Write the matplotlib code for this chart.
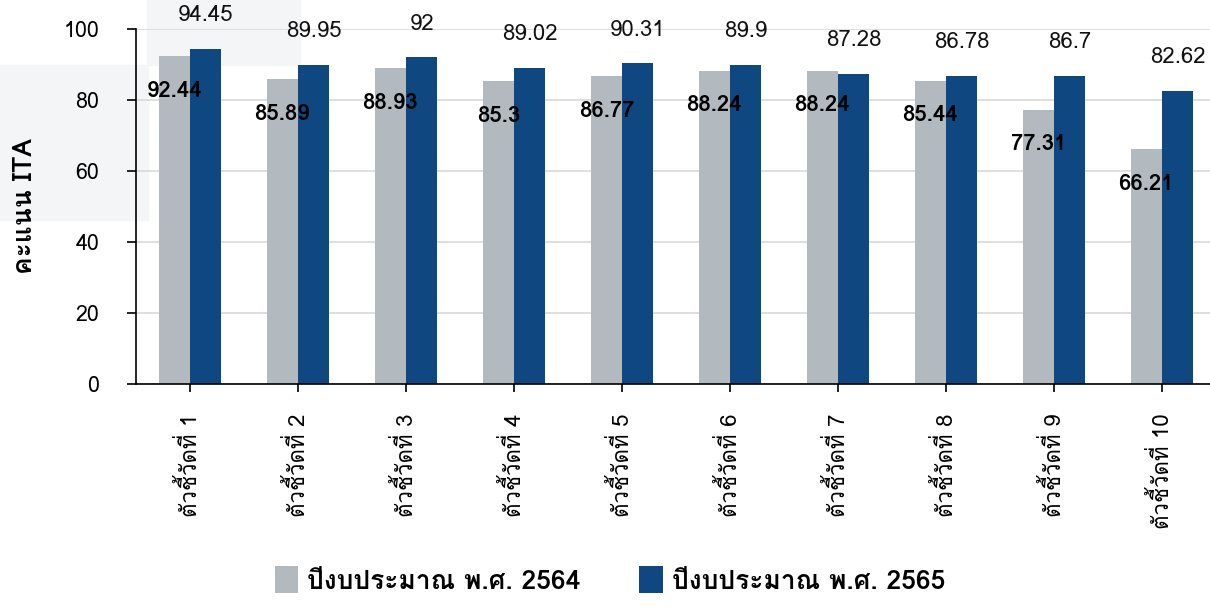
import matplotlib
matplotlib.use('Agg')
import matplotlib.pyplot as plt
import matplotlib.patches as mpatches
from matplotlib import font_manager, ft2font
import numpy as np

categories = ['ตัวชี้วัดที่ 1', 'ตัวชี้วัดที่ 2', 'ตัวชี้วัดที่ 3', 'ตัวชี้วัดที่ 4', 'ตัวชี้วัดที่ 5',
              'ตัวชี้วัดที่ 6', 'ตัวชี้วัดที่ 7', 'ตัวชี้วัดที่ 8', 'ตัวชี้วัดที่ 9', 'ตัวชี้วัดที่ 10']
score_2564 = [92.44, 85.89, 88.93, 85.3, 86.77, 88.24, 88.24, 85.44, 77.31, 66.21]
score_2565 = [94.45, 89.95, 92, 89.02, 90.31, 89.9, 87.28, 86.78, 86.7, 82.62]
series_names = ['ปีงบประมาณ พ.ศ. 2564', 'ปีงบประมาณ พ.ศ. 2565']
y_ticks = [0, 20, 40, 60, 80, 100]


def find_thai_fonts():
    # families that actually carry Thai glyphs
    found = []
    for f in font_manager.fontManager.ttflist:
        try:
            cmap = ft2font.FT2Font(f.fname).get_charmap()
        except Exception:
            continue
        if 0x0E01 in cmap and 0x0E35 in cmap and f.name not in found:
            found.append(f.name)
    return found


thai = find_thai_fonts()
plt.rcParams['font.family'] = thai[:1] + ['DejaVu Sans']

fig = plt.figure(figsize=(12.1, 6.07), dpi=100)
# faint patches left over from the source screenshot
fig.patches.append(mpatches.Rectangle((147 / 1210, 1 - 65 / 607), 153 / 1210, 65 / 607,
                                      transform=fig.transFigure, color='#f4f5f6', zorder=-5))
fig.patches.append(mpatches.Rectangle((0, 1 - 220 / 607), 148 / 1210, 155 / 607,
                                      transform=fig.transFigure, color='#f4f5f6', zorder=-5))

ax = fig.add_axes([136 / 1210, 223 / 607, 1080 / 1210, 355 / 607])
ax.patch.set_alpha(0)

x = np.arange(len(categories))
w = 0.29
gray = '#b2babf'
blue = '#0f4880'
b1 = ax.bar(x - w / 2, score_2564, w, color=gray, zorder=2, label=series_names[0])
b2 = ax.bar(x + w / 2, score_2565, w, color=blue, zorder=2, label=series_names[1])

for xi, v in zip(x, score_2564):
    ax.annotate(f'{v:g}', (xi - w / 2, v), xytext=(0, -25), textcoords='offset points',
                ha='center', va='center', fontsize=16, color='black', zorder=4,
                fontweight='semibold')
for xi, v in zip(x, score_2565):
    ax.annotate(f'{v:g}', (xi + w / 2, v), xytext=(0, 24), textcoords='offset points',
                ha='center', va='center', fontsize=16, color='#111111', zorder=4,
                annotation_clip=False)

ax.set_xlim(-0.5, len(categories) - 0.5)
ax.set_ylim(0, 100)
ax.tick_params(axis='y', labelsize=15.5, length=6.5, width=1.2, pad=20)
ax.tick_params(axis='x', length=6, width=1.2, pad=15, labelsize=16, labelrotation=90)
ax.set_yticks(y_ticks)
ax.set_xticks(x)
ax.set_xticklabels(categories)
ax.yaxis.grid(True, color='#d9d9d9', linewidth=1.2, zorder=0)
ax.set_axisbelow(True)
for s in ['top', 'right']:
    ax.spines[s].set_visible(False)
ax.spines['left'].set_linewidth(1.2)
ax.spines['bottom'].set_linewidth(1.2)
ax.set_ylabel('คะแนน ITA', fontsize=19, fontweight='bold')
ax.yaxis.set_label_coords(-0.092, 0.5)

fig.legend(handles=[b1, b2], loc='center', bbox_to_anchor=(0.504, 1 - 580 / 607), ncol=2,
           frameon=False, prop={'size': 19, 'weight': 'bold'}, handlelength=0.9,
           handleheight=1.15, columnspacing=2.2, handletextpad=0.35)

fig.savefig('out.png', dpi=100)
